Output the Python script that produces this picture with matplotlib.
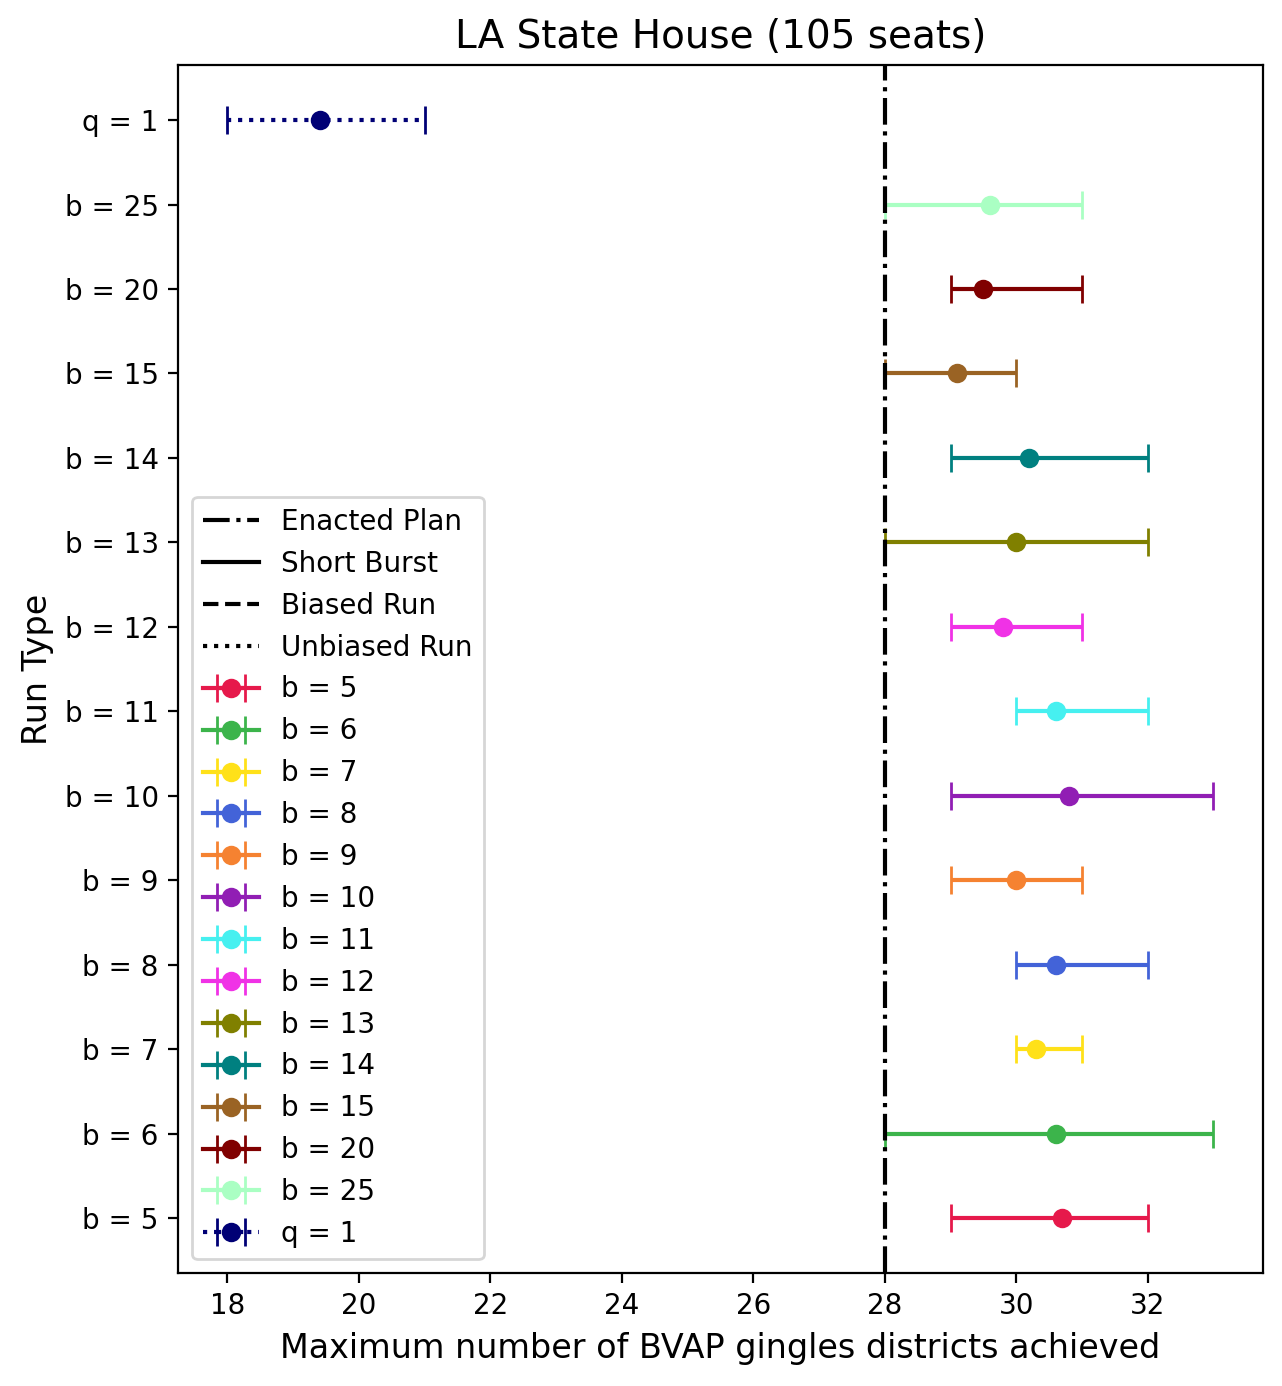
import matplotlib.pyplot as plt
from matplotlib.lines import Line2D

# run labels (bottom to top) and results
labels = ['b = 5', 'b = 6', 'b = 7', 'b = 8', 'b = 9', 'b = 10', 'b = 11',
          'b = 12', 'b = 13', 'b = 14', 'b = 15', 'b = 20', 'b = 25', 'q = 1']
means = [30.7, 30.6, 30.3, 30.6, 30.0, 30.8, 30.6, 29.8, 30.0, 30.2, 29.1, 29.5, 29.6, 19.4]
mins = [29, 28, 30, 30, 29, 29, 30, 29, 28, 29, 28, 29, 28, 18]
maxs = [32, 33, 31, 32, 31, 33, 32, 31, 32, 32, 30, 31, 31, 21]
colors = ['#e6194B', '#3cb44b', '#ffe119', '#4363d8', '#f58231', '#911eb4', '#46f0f0',
          '#f032e6', '#808000', '#008080', '#9A6324', '#800000', '#aaffc3', '#000075']
styles = ['-'] * 13 + [':']
enacted = 28

fig, ax = plt.subplots(figsize=(6.41, 6.93), dpi=200)

for i in range(len(labels)):
    err = [[means[i] - mins[i]], [maxs[i] - means[i]]]
    eb = ax.errorbar(means[i], i, xerr=err, marker='o', linestyle=styles[i],
                     color=colors[i], capsize=5, label=labels[i])
    eb[-1][0].set_linestyle(styles[i])

ax.axvline(enacted, color='black', linestyle='-.')

handles, lbls = ax.get_legend_handles_labels()
proxies = [Line2D([0], [0], color='black', linestyle='-.'),
           Line2D([0], [0], color='black', linestyle='-'),
           Line2D([0], [0], color='black', linestyle='--'),
           Line2D([0], [0], color='black', linestyle=':')]
ax.legend(proxies + handles, ['Enacted Plan', 'Short Burst', 'Biased Run', 'Unbiased Run'] + lbls,
          loc='lower left')

ax.set_yticks(range(len(labels)))
ax.set_yticklabels(labels)
ax.set_xlabel('Maximum number of BVAP gingles districts achieved', fontsize=12)
ax.set_ylabel('Run Type', fontsize=12)
ax.set_title('LA State House (105 seats)', fontsize=14)

plt.subplots_adjust(left=0.139, right=0.985, top=0.953, bottom=0.0815)
plt.savefig('out.png')
